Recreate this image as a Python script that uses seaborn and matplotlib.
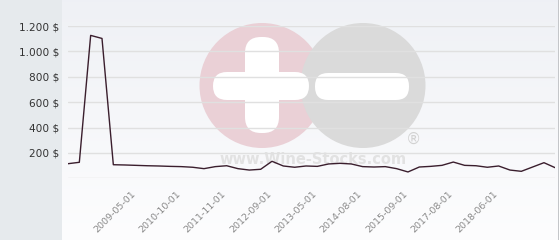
import numpy as np
import pandas as pd
import matplotlib
matplotlib.use("Agg")
import matplotlib.pyplot as plt
import matplotlib.patches as mpatches
import matplotlib.transforms as mtransforms
import seaborn as sns

# ---- data ----
prices = [115, 126, 1126, 1102, 107, 105, 102, 99, 97, 94, 92, 87, 76, 92, 99,
          76, 65, 71, 134, 97, 87, 97, 94, 113, 118, 113, 92, 89, 92, 76, 50,
          89, 94, 102, 128, 102, 99, 87, 97, 65, 55, 89, 123, 83]
tick_positions = [6, 10, 14, 18, 22, 26, 30, 34, 38]
tick_labels = ["2009-05-01", "2010-10-01", "2011-11-01", "2012-09-01", "2013-05-01",
               "2014-08-01", "2015-09-01", "2017-08-01", "2018-06-01"]
y_ticks = [0, 200, 400, 600, 800, 1000, 1200]
y_labels = ["", "200 $", "400 $", "600 $", "800 $", "1.000 $", "1.200 $"]

df = pd.DataFrame({"idx": np.arange(len(prices)), "price": prices})

sns.set_style("white")
plt.rcParams["font.family"] = ["DejaVu Sans"]

W, H = 560, 240
fig = plt.figure(figsize=(W / 100, H / 100), dpi=100)
fig.patch.set_facecolor("white")

# background / watermark axes in pixel coords
bg = fig.add_axes([0, 0, 1, 1], zorder=0)
bg.set_xlim(0, W)
bg.set_ylim(H, 0)
bg.axis("off")
grad = np.linspace(0, 1, 100).reshape(-1, 1)
top = np.array([0.937, 0.945, 0.961])
bot = np.array([0.992, 0.992, 0.996])
img = top[None, None, :] * (1 - grad[:, :, None]) + bot[None, None, :] * grad[:, :, None]
bg.imshow(img, extent=[62, 558, H, 0], aspect="auto", zorder=0)
bg.add_patch(mpatches.Rectangle((0, 0), 62, H, color="#e6eaed", zorder=1, lw=0))
bg.add_patch(mpatches.Rectangle((558, 0), 1.2, H, color="#c4c6c9", zorder=1, lw=0))

# watermark
bg.add_patch(mpatches.Circle((262, 85.5), 62.5, color="#ead0d6", lw=0, zorder=2))
bg.add_patch(mpatches.Circle((363, 85.5), 62.5, color="#dadada", lw=0, zorder=3))
bg.add_patch(mpatches.FancyBboxPatch((213, 72), 96, 28,
                                     boxstyle="round,pad=0,rounding_size=14",
                                     color="white", lw=0, zorder=4))
bg.add_patch(mpatches.FancyBboxPatch((245, 37), 34, 96,
                                     boxstyle="round,pad=0,rounding_size=16",
                                     color="white", lw=0, zorder=4))
bg.add_patch(mpatches.FancyBboxPatch((315, 73), 94, 27,
                                     boxstyle="round,pad=0,rounding_size=13",
                                     color="white", lw=0, zorder=4))
bg.text(413, 139, "®", ha="center", va="center", fontsize=11, color="#d2d2d2", zorder=4)
bg.text(313, 160, "www.Wine-Stocks.com", ha="center", va="center", fontsize=10.5,
        color="#e2e2e2", fontweight="bold", zorder=4)

# main axes
x0, x1 = 68, 555.3
y0, y1 = 178.3, 26
ax = fig.add_axes([x0 / W, (H - y0) / H, (x1 - x0) / W, (y0 - y1) / H], zorder=2)
ax.patch.set_alpha(0)
sns.lineplot(data=df, x="idx", y="price", ax=ax, color="#3a1e2d", lw=1.0)
ax.set_xlim(0, len(prices) - 1)
ax.set_ylim(0, 1200)
ax.set_yticks(y_ticks)
ax.set_yticklabels(y_labels)
ax.set_xticks(tick_positions)
ax.set_xticklabels(tick_labels, rotation=45, ha="right", rotation_mode="anchor", va="center")
ax.grid(axis="y", color="#e0e0e0", lw=1)
ax.grid(axis="x", visible=False)
ax.set_axisbelow(True)
for s in ax.spines.values():
    s.set_visible(False)
ax.set_xlabel("")
ax.set_ylabel("")
ax.tick_params(axis="y", length=0, pad=6.3, labelsize=7.6, labelcolor="#333333")
ax.tick_params(axis="x", length=0, pad=10, labelsize=6.8, labelcolor="#8a8a8a")
off = mtransforms.ScaledTranslation(-2 / 100, 0, fig.dpi_scale_trans)
for lab in ax.get_xticklabels():
    lab.set_transform(lab.get_transform() + off)

fig.savefig("out.png", dpi=100)
